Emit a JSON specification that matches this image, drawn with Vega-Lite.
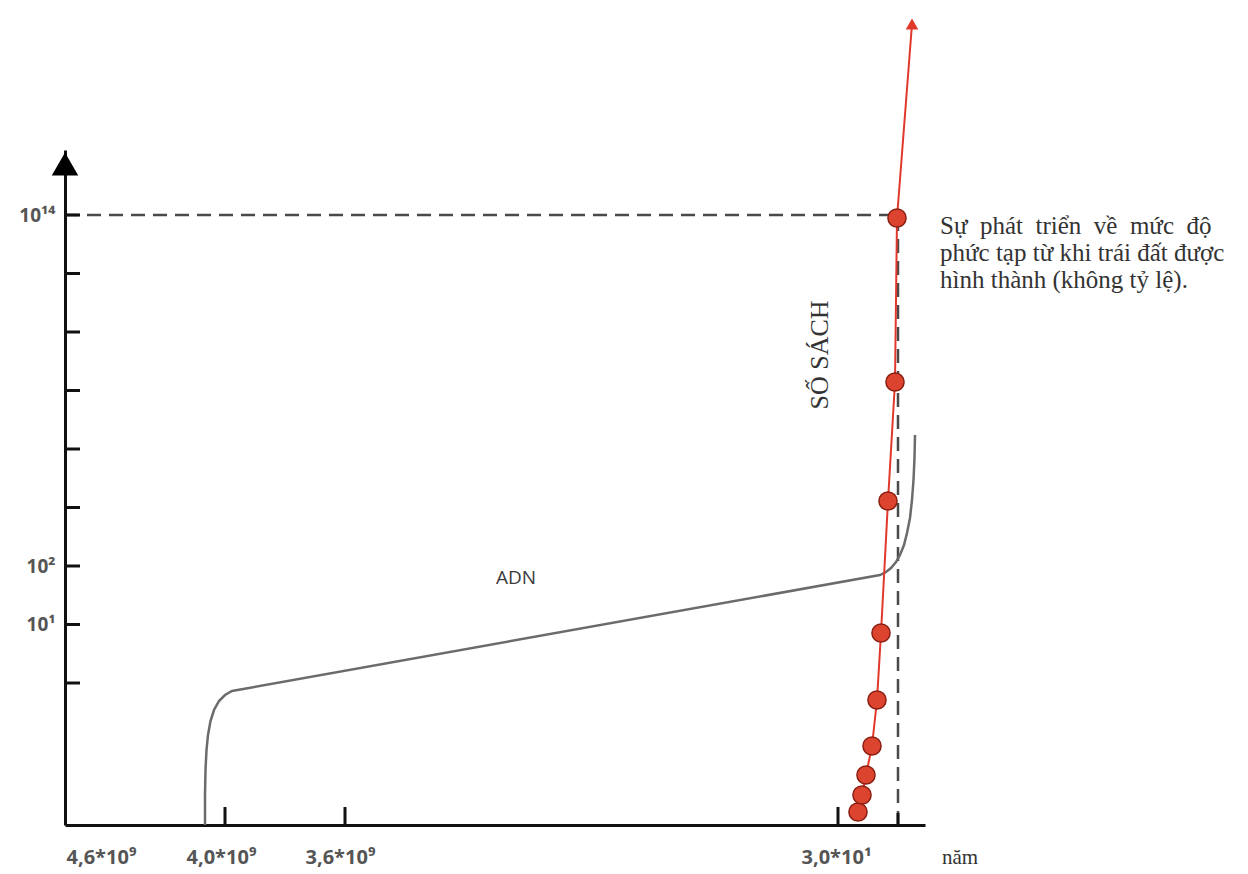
{
  "$schema": "https://vega.github.io/schema/vega-lite/v6.json",
  "width": 860,
  "height": 675,
  "autosize": {"type": "none"},
  "padding": {"left": 65, "top": 150, "right": 323, "bottom": 49},
  "background": "white",
  "config": {
    "view": {"stroke": null},
    "axis": {"title": null, "grid": false, "ticks": false, "domainColor": "#111", "domainWidth": 3,
      "labelFont": "Open Sans", "labelFontWeight": "bold", "labelColor": "#555"}
  },
  "datasets": {
    "dna": [
      {"x": 14.0, "y": 0}, {"x": 14.0, "y": 3.0}, {"x": 14.05, "y": 5.5}, {"x": 14.15, "y": 7.5},
      {"x": 14.3, "y": 9.0}, {"x": 14.55, "y": 10.4}, {"x": 14.9, "y": 11.5}, {"x": 15.4, "y": 12.4},
      {"x": 16.0, "y": 13.0}, {"x": 16.7, "y": 13.4},
      {"x": 81.5, "y": 25.0}, {"x": 82.1, "y": 25.3}, {"x": 82.6, "y": 25.7}, {"x": 83.1, "y": 26.3},
      {"x": 83.5, "y": 27.0}, {"x": 83.9, "y": 28.0}, {"x": 84.2, "y": 29.2}, {"x": 84.5, "y": 30.7},
      {"x": 84.7, "y": 32.5}, {"x": 84.85, "y": 34.5}, {"x": 84.95, "y": 36.7}, {"x": 85.0, "y": 39.0}
    ],
    "books": [
      {"x": 79.3, "y": 1.3, "marker": "dot"}, {"x": 79.7, "y": 3.0, "marker": "dot"},
      {"x": 80.1, "y": 5.0, "marker": "dot"}, {"x": 80.7, "y": 7.9, "marker": "dot"},
      {"x": 81.2, "y": 12.5, "marker": "dot"}, {"x": 81.6, "y": 19.2, "marker": "dot"},
      {"x": 82.3, "y": 32.4, "marker": "dot"}, {"x": 83.0, "y": 44.3, "marker": "dot"},
      {"x": 83.2, "y": 60.7, "marker": "dot"}, {"x": 84.7, "y": 80.1, "marker": "arrow"}
    ],
    "yticks": [
      {"x": 0, "y": 14.2}, {"x": 0, "y": 20.05}, {"x": 0, "y": 25.9}, {"x": 0, "y": 31.75}, {"x": 0, "y": 37.6},
      {"x": 0, "y": 43.45}, {"x": 0, "y": 49.3}, {"x": 0, "y": 55.15}, {"x": 0, "y": 61.0}
    ],
    "xticks": [
      {"x": 16.0, "y": 0, "len": 1.8}, {"x": 28.0, "y": 0, "len": 1.8},
      {"x": 77.3, "y": 0, "len": 1.8}, {"x": 83.3, "y": 0, "len": 1.2}
    ]
  },
  "encoding": {
    "x": {"field": "x", "type": "quantitative", "scale": {"domain": [0, 86], "nice": false, "zero": false},
      "axis": {"values": [3.6, 15.6, 27.5, 77.1],
        "labelExpr": "datum.value == 3.6 ? '4,6*10⁹' : datum.value == 15.6 ? '4,0*10⁹' : datum.value == 27.5 ? '3,6*10⁹' : '3,0*10¹'",
        "labelPadding": 22, "labelFontSize": 20}},
    "y": {"field": "y", "type": "quantitative", "scale": {"domain": [0, 67.5], "nice": false, "zero": false},
      "axis": {"values": [61, 25.9, 20.05],
        "labelExpr": "datum.value == 61 ? '10¹⁴' : datum.value == 25.9 ? '10²' : '10¹'",
        "labelPadding": 10, "labelFontSize": 19}}
  },
  "layer": [
    {
      "data": {"values": [{"x": 0, "y": 61, "x2": 83.2}]},
      "mark": {"type": "rule", "color": "#4a4a4a", "strokeWidth": 2.5, "strokeDash": [14, 8]},
      "encoding": {"x2": {"field": "x2"}}
    },
    {
      "data": {"values": [{"x": 83.3, "y": 0, "y2": 61}]},
      "mark": {"type": "rule", "color": "#4a4a4a", "strokeWidth": 2.5, "strokeDash": [14, 8]},
      "encoding": {"y2": {"field": "y2"}}
    },
    {
      "data": {"name": "yticks"},
      "mark": {"type": "rule", "color": "#111", "strokeWidth": 3},
      "encoding": {"x2": {"datum": 1.5}}
    },
    {
      "data": {"name": "xticks"},
      "mark": {"type": "rule", "color": "#111", "strokeWidth": 3},
      "encoding": {"y2": {"field": "len"}}
    },
    {
      "data": {"values": [{"x": 0, "y": 66.1}]},
      "mark": {"type": "point", "shape": "triangle-up", "filled": true, "color": "#000", "size": 700, "opacity": 1}
    },
    {
      "data": {"name": "dna"},
      "mark": {"type": "line", "color": "#6b6b6b", "strokeWidth": 2.5},
      "encoding": {"order": {"field": "y"}}
    },
    {
      "data": {"name": "books"},
      "mark": {"type": "line", "color": "#e0392b", "strokeWidth": 2},
      "encoding": {"order": {"field": "y"}}
    },
    {
      "data": {"name": "books"},
      "transform": [{"filter": "datum.marker == 'dot'"}],
      "mark": {"type": "point", "shape": "circle", "filled": true, "fill": "#dc4430", "stroke": "#8a1f12", "strokeWidth": 1.5, "size": 330, "opacity": 1}
    },
    {
      "data": {"name": "books"},
      "transform": [{"filter": "datum.marker == 'arrow'"}],
      "mark": {"type": "point", "shape": "triangle-up", "filled": true, "color": "#e0392b", "size": 160, "opacity": 1}
    },
    {
      "data": {"values": [{"x": 45.1, "y": 24.7, "text": "ADN"}]},
      "mark": {"type": "text", "font": "Open Sans", "fontSize": 19, "color": "#3a3a3a", "align": "center", "baseline": "middle"},
      "encoding": {"text": {"field": "text"}}
    },
    {
      "data": {"values": [{"x": 75.5, "y": 47.0, "text": "SỐ SÁCH"}]},
      "mark": {"type": "text", "font": "Liberation Serif", "fontSize": 26, "color": "#333", "angle": 270, "align": "center", "baseline": "middle"},
      "encoding": {"text": {"field": "text"}}
    },
    {
      "data": {"values": [{"x": 87.5, "y": 61.1, "text": "Sự \u00a0phát \u00a0triển \u00a0về \u00a0mức \u00a0độ\nphức tạp từ khi trái đất được\nhình thành (không tỷ lệ)."}]},
      "mark": {"type": "text", "font": "Liberation Serif", "fontSize": 25, "color": "#333", "align": "left", "baseline": "top", "lineBreak": "\n", "lineHeight": 27},
      "encoding": {"text": {"field": "text"}}
    },
    {
      "data": {"values": [{"x": 89.5, "y": -3.3, "text": "năm"}]},
      "mark": {"type": "text", "font": "Liberation Serif", "fontSize": 21, "color": "#333", "align": "center", "baseline": "middle"},
      "encoding": {"text": {"field": "text"}}
    }
  ]
}
